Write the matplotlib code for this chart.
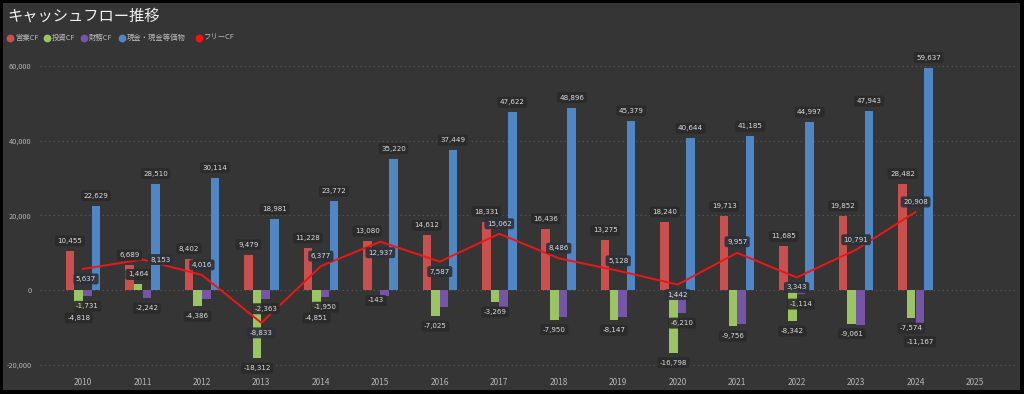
import numpy as np
import matplotlib
matplotlib.use("Agg")
import matplotlib.pyplot as plt
from matplotlib.patches import Rectangle
from matplotlib.lines import Line2D

# 日本語フォント
plt.rcParams['font.family'] = ['Noto Sans CJK JP', 'DejaVu Sans']

# データ（単位：百万円想定）
years = ['2010', '2011', '2012', '2013', '2014', '2015', '2016', '2017',
         '2018', '2019', '2020', '2021', '2022', '2023', '2024', '2025']
operating_cf = [10455, 6689, 8402, 9479, 11228, 13080, 14612, 18331,
                16436, 13275, 18240, 19713, 11685, 19852, 28482]
investing_cf = [-4818, 1464, -4386, -18312, -4851, -143, -7025, -3269,
                -7950, -8147, -16798, -9756, -8342, -9061, -7574]
financing_cf = [-1731, -2242, -2500, -2363, -1950, -1500, -4700, -4500,
                -7300, -7200, -6210, -9200, -1114, -9300, -11167]
cash = [22629, 28510, 30114, 18981, 23772, 35220, 37449, 47622,
        48896, 45379, 40644, 41185, 44997, 47943, 59637]
free_cf = [5637, 8153, 4016, -8833, 6377, 12937, 7587, 15062,
           8486, 5128, 1442, 9957, 3343, 10791, 20908]

series_names = ['営業CF', '投資CF', '財務CF', '現金・現金等価物']
bar_colors = ['#C9504F', '#9BC462', '#7654A8', '#4F86C6']
line_color = '#F01515'

# 財務CFのラベルは重なるものを表示しない
fin_label_shown = [True, True, False, True, True, False, False, False,
                   False, False, True, False, True, False, True]
# フリーCFラベルの位置（ピクセル）
free_label_offset = [(3, -10), (18, 0), (0, 10), (0, -10), (0, 10), (0, -11),
                     (0, -10), (0, 10), (0, 10), (0, 10), (0, -10), (0, 11),
                     (0, -10), (0, 10), (0, 10)]

BG = '#353535'
W, H = 1024, 394
fig = plt.figure(figsize=(W / 100, H / 100), dpi=100)
fig.patch.set_facecolor('black')
fig.add_artist(Rectangle((3 / W, 4 / H), 1 - 7 / W, 1 - 7 / H,
                         transform=fig.transFigure, facecolor=BG,
                         edgecolor='none', zorder=-5))

ax = fig.add_axes([40 / W, 1 - 372 / H, 977 / W, 324.5 / H])
ax.set_facecolor('none')

x = np.arange(len(operating_cf))
w = 0.143
offsets = [-1.5, -0.5, 0.5, 1.5]
all_series = [operating_cf, investing_cf, financing_cf, cash]

box = dict(boxstyle='round,pad=0.35,rounding_size=0.3', fc='#2a2a2a',
           ec='none', alpha=0.9)

for k, (vals, col) in enumerate(zip(all_series, bar_colors)):
    xs = x + offsets[k] * w * 1.02
    ax.bar(xs, vals, width=w, color=col, zorder=2)
    for i, (xi, v) in enumerate(zip(xs, vals)):
        if k == 2 and not fin_label_shown[i]:
            continue
        dy = 10 if v >= 0 else -10
        ax.annotate(f"{v:,}", (xi, v), xytext=(0, dy), textcoords='offset pixels',
                    ha='center', va='center', fontsize=5.1, color='#dcdcdc',
                    family=['DejaVu Sans'], bbox=box, zorder=5)

# フリーCF（折れ線）
ax.plot(x, free_cf, color=line_color, lw=1.4, zorder=4)
box_line = dict(boxstyle='round,pad=0.35,rounding_size=0.3', fc='#2c3038',
                ec='none', alpha=0.9)
for i, v in enumerate(free_cf):
    ax.annotate(f"{v:,}", (x[i], v), xytext=free_label_offset[i],
                textcoords='offset pixels', ha='center', va='center',
                fontsize=5.1, color='#dcdcdc', family=['DejaVu Sans'],
                bbox=box_line, zorder=6)

# 軸の設定
ax.set_xlim(-0.723, 15.706)
ax.set_ylim(-22000, 65000)
ax.set_xticks(np.arange(len(years)))
ax.set_xticklabels(years)
ax.set_yticks([-20000, 0, 20000, 40000, 60000])
ax.set_yticklabels([f"{t:,}" for t in [-20000, 0, 20000, 40000, 60000]])
ax.tick_params(axis='x', length=0, labelsize=6, colors='#b4b4b4', pad=4)
ax.tick_params(axis='y', length=0, labelsize=5.3, colors='#b4b4b4', pad=6)
for s in ax.spines.values():
    s.set_visible(False)
ax.yaxis.grid(True, linestyle=(0, (1, 3)), color='#5a5a5a', lw=0.8, zorder=0)
ax.set_axisbelow(True)

# タイトル
fig.text(7 / W, 1 - 16 / H, 'キャッシュフロー推移', fontsize=11,
         color='#f2f2f2', va='center', ha='left')

# 凡例（手動配置）
legend_names = series_names + ['フリーCF']
legend_colors = bar_colors + ['#FF1010']
legend_x = [10, 47, 84, 122, 199]
for lx, name, col in zip(legend_x, legend_names, legend_colors):
    fig.add_artist(Line2D([lx / W], [1 - 38 / H], marker='o', ls='',
                          color=col, markersize=4.6,
                          transform=fig.transFigure))
    fig.text((lx + 5) / W, 1 - 38 / H, name, fontsize=5.3, color='#bbbbbb',
             va='center', ha='left')

fig.savefig('out.png', dpi=100, facecolor=fig.get_facecolor())
